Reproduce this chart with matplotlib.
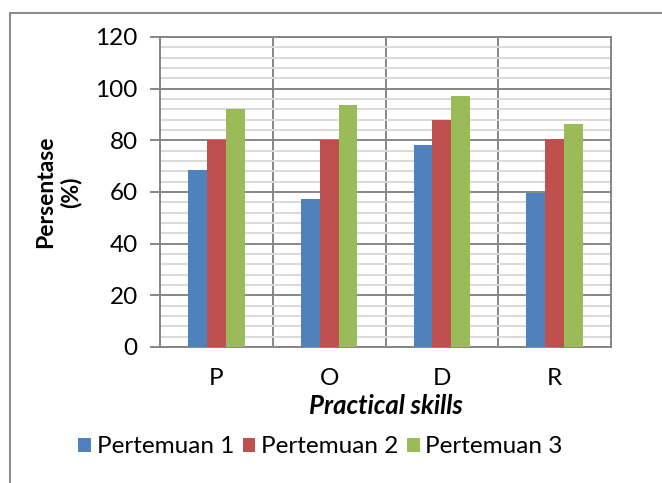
#!/usr/bin/env python3
import matplotlib

matplotlib.use("Agg")
import matplotlib.pyplot as plt
from matplotlib.patches import Rectangle
from matplotlib.ticker import MultipleLocator, FixedLocator

categories = ["P", "O", "D", "R"]
series_names = ["Pertemuan 1", "Pertemuan 2", "Pertemuan 3"]
pertemuan_1 = [68.5, 57.2, 78.3, 59.6]
pertemuan_2 = [80.0, 80.0, 87.9, 80.7]
pertemuan_3 = [92.1, 93.8, 97.0, 86.5]
colors = ["#4F81BD", "#C0504D", "#9BBB59"]

plt.rcParams["font.family"] = ["Lato", "DejaVu Sans"]


def main() -> None:
    fig = plt.figure(figsize=(6.62, 4.83), dpi=100)
    ax = fig.add_axes([0.2417, 0.2816, 0.6813, 0.6418])

    width = 1 / 6
    x = range(len(categories))
    handles = []
    for i, (vals, name) in enumerate(zip([pertemuan_1, pertemuan_2, pertemuan_3], series_names)):
        offs = (i - 1) * width
        b = ax.bar([xi + offs for xi in x], vals, width, color=colors[i], label=name, zorder=3)
        handles.append(b)

    ax.set_xlim(-0.5, len(categories) - 0.5)
    ax.set_ylim(0, 120)
    ax.set_xticks(list(x))
    ax.set_xticklabels(categories)
    ax.xaxis.set_minor_locator(FixedLocator([0.5, 1.5, 2.5]))
    ax.yaxis.set_major_locator(MultipleLocator(20))
    ax.yaxis.set_minor_locator(MultipleLocator(4))

    ax.grid(True, axis="y", which="minor", color="#D9D9D9", linewidth=1.4, zorder=1)
    ax.grid(True, axis="y", which="major", color="#868686", linewidth=1.4, zorder=2)
    ax.grid(True, axis="x", which="minor", color="#868686", linewidth=1.4, zorder=2)
    ax.grid(False, axis="x", which="major")

    for s in ax.spines.values():
        s.set_color("#868686")
        s.set_linewidth(1.4)

    ax.tick_params(axis="y", which="major", length=7, width=1.4, color="#868686",
                   labelsize=17.5, pad=9)
    ax.tick_params(axis="y", which="minor", length=0)
    ax.tick_params(axis="x", which="both", length=0, labelsize=17.5, pad=15)

    ax.set_ylabel("Persentase\n(%)", fontsize=16.5, fontweight="bold", labelpad=10,
                  linespacing=1.2)
    ax.set_xlabel("Practical skills", fontsize=18.5, fontweight="bold", style="italic",
                  labelpad=4)

    fig.legend(handles=handles, labels=series_names, loc="center", ncol=3,
               bbox_to_anchor=(0.484, 0.075), frameon=False, fontsize=17.5,
               handlelength=0.53, handleheight=0.53, handletextpad=0.22, columnspacing=0.35)

    # outer chart frame (left and top edges visible)
    fig.patches.append(Rectangle((10 / 662, -0.1), 1.2, (483 - 13) / 483 + 0.1,
                                 transform=fig.transFigure, fill=False,
                                 edgecolor="#8C8C8C", linewidth=1.5))

    fig.savefig("out.png", dpi=100)


if __name__ == "__main__":
    main()
